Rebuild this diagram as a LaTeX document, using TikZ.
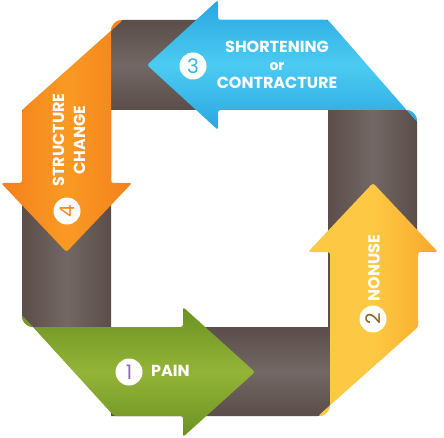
\documentclass[tikz,border=0pt]{standalone}
\usepackage{fontspec}
\setmainfont{Poppins}
\usetikzlibrary{calc}

\definecolor{brownD}{HTML}{5A4D4A}
\definecolor{brownL}{HTML}{736865}
\definecolor{greenD}{HTML}{6B9121}
\definecolor{greenL}{HTML}{93B437}
\definecolor{yellowL}{HTML}{FDC843}
\definecolor{yellowD}{HTML}{F8A82A}
\definecolor{blueD}{HTML}{2AA6E0}
\definecolor{blueL}{HTML}{4CCBF2}
\definecolor{orangeD}{HTML}{F4801A}
\definecolor{orangeL}{HTML}{F99A24}
\definecolor{digitpurple}{HTML}{8D6CB3}
\definecolor{digitbrown}{HTML}{8A6422}
\definecolor{digitblue}{HTML}{36B3E6}
\definecolor{digitorange}{HTML}{F58A1E}

\begin{document}
\begin{tikzpicture}[
    x=1pt, y=-1pt,
    bandv/.style={left color=brownD, right color=brownD, middle color=brownL},
    bandh/.style={top color=brownD, bottom color=brownD, middle color=brownL},
    ribbon/.style={rounded corners=2.5pt},
    numdot/.style={circle, fill=white, minimum size=27pt, inner sep=0pt, font=\fontsize{20}{20}\selectfont},
    tag/.style={text=white, inner sep=0pt, align=center, font=\bfseries\fontsize{16}{18}\selectfont}
]
\useasboundingbox (0,0) rectangle (444,438);
% brown frame
\shade[bandv] (22,110) -- (22,315) .. controls (22,321.6) and (27.4,327) .. (34,327) -- (111,327) -- (111,110) -- cycle;
\shade[bandh] (111,32) .. controls (111,25.4) and (116.4,20) .. (123,20) -- (328,20) -- (328,110) -- (111,110) -- cycle;
\shade[bandv] (328,110) -- (405,110) .. controls (411.6,110) and (417,115.4) .. (417,122) -- (417,327) -- (328,327) -- cycle;
\shade[bandh] (111,327) -- (330,327) -- (330,404) .. controls (330,410.6) and (324.6,416) .. (318,416) -- (111,416) -- cycle;
% arrows
\shade[ribbon, top color=greenD, bottom color=greenD, middle color=greenL]
  (22,315) .. controls (22,321.6) and (27.4,327) .. (34,327) -- (183,327) -- (183,307) -- (255,372) -- (183,437) -- (183,416) -- (114,416) -- cycle;
\shade[ribbon, left color=yellowL, right color=yellowD, middle color=yellowL]
  (330,252) -- (308,252) -- (373,183) -- (438,252) -- (418,252) -- (418,327) -- (318,416) .. controls (324.6,416) and (330,410.6) .. (330,404) -- cycle;
\shade[ribbon, top color=blueD, bottom color=blueD, middle color=blueL]
  (218,20) -- (328,20) -- (417,122) .. controls (417,115.4) and (411.6,110) .. (405,110) -- (218,110) -- (218,130) -- (147,65) -- (218,0) -- cycle;
\shade[ribbon, left color=orangeD, right color=orangeD, middle color=orangeL]
  (22,110) -- (123,20) .. controls (116.4,20) and (111,25.4) .. (111,32) -- (111,183) -- (132,183) -- (66.5,252) -- (1,183) -- (22,183) -- cycle;
% labels
\node[numdot, text=digitpurple] (n1) at (129,372) {1};
\node[tag, anchor=west] (t1) at (151,371) {PAIN};
\node[numdot, text=digitbrown, rotate=90] (n2) at (373,319) {2};
\node[tag, rotate=90] (t2) at (374,268) {NONUSE};
\node[numdot, text=digitblue] (n3) at (193,66) {3};
\node[tag] (t3) at (277,65) {SHORTENING\\{\fontsize{14}{14}\selectfont or}\\CONTRACTURE};
\node[numdot, text=digitorange, rotate=90] (n4) at (67,211) {4};
\node[tag, rotate=90] (t4) at (69,140) {STRUCTURE\\[3pt]CHANGE};
\end{tikzpicture}
\end{document}
